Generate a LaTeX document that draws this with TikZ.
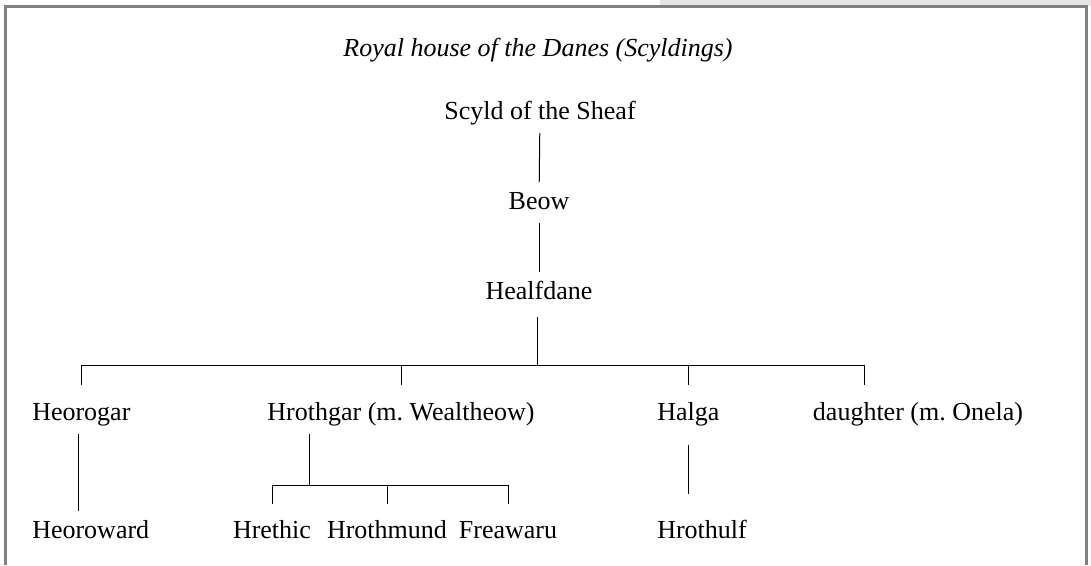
\documentclass[tikz,border=0pt]{standalone}
\usepackage{fontspec}
\setmainfont{Liberation Serif}
\usetikzlibrary{calc}
\frenchspacing

\begin{document}
\begin{tikzpicture}[x=0.75pt,y=0.75pt,yscale=-1,xscale=1,
    every node/.style={inner sep=0pt, anchor=base, font=\fontsize{19.5}{23}\selectfont},
    person/.style={text height=13.5pt, text depth=3.75pt, outer ysep=6.75pt},
    kin/.style={line width=0.75pt, black},
    pageframe/.style={draw=black!50, line width=2.25pt}]
    \useasboundingbox (0,0) rectangle (1091,565);

    %Page tab and frame
    \fill[black!10] (660,0) rectangle (1091,6);
    \draw[pageframe] (5,565) -- (5,6.5) -- (1086.5,6.5) -- (1086.5,565);

    % Text Node
    \node (title) at (538,56) {\itshape Royal house of the Danes (Scyldings)};
    % Text Node
    \node[person] (scyld) at (540,119) {Scyld of the Sheaf};
    % Text Node
    \node[person] (beow) at (539,209) {Beow};
    % Text Node
    \node[person] (healfdane) at (539,299) {Healfdane};
    % Text Node
    \node[person, anchor=base west] (heorogar) at (32,420) {Heorogar};
    % Text Node
    \node[person] (hrothgar) at (401,420) {Hrothgar (m. Wealtheow)};
    % Text Node
    \node[person, anchor=base west] (halga) at (657,420) {Halga};
    % Text Node
    \node[person] (daughter) at (918,420) {daughter (m. Onela)};
    % Text Node
    \node[person, anchor=base west] (heoroward) at (32,538) {Heoroward};
    % Text Node
    \node[person] (hrethic) at (272,538) {Hrethic};
    % Text Node
    \node[person] (hrothmund) at (387,538) {Hrothmund};
    % Text Node
    \node[person] (freawaru) at (508,538) {Freawaru};
    % Text Node
    \node[person, anchor=base west] (hrothulf) at (657,538) {Hrothulf};

    \coordinate (fork) at (537,365);
    \coordinate (sons) at (309,485);
    \coordinate (gar) at ($(heorogar.south)+(-3,0)$);
    \coordinate (onela) at ($(daughter.north)+(-54,0)$);

    %Straight Lines
    \draw[kin] (scyld) -- (beow);
    \draw[kin] (beow) -- (healfdane);
    \draw[kin, shorten <=3pt] (healfdane.south -| fork) -- (fork);
    %Bar over Healfdane's children
    \draw[kin, shorten <=6pt, shorten >=6pt] (heorogar.north) |- (fork) -| (onela);
    \draw[kin, shorten <=6pt] (hrothgar.north) -- (hrothgar.north |- fork);
    \draw[kin, shorten <=6pt] (halga.north) -- (halga.north |- fork);
    %Straight Lines
    \draw[kin] (gar) -- (gar |- heoroward.north);
    \draw[kin, shorten <=8pt, shorten >=13pt] (halga.south) -- (halga.south |- hrothulf.north);
    %Bar over Hrothgar's children
    \draw[kin] (hrothgar.south -| sons) -- (sons);
    \draw[kin, shorten <=5pt, shorten >=5pt] (hrethic.north) |- (sons) -| (freawaru.north);
    \draw[kin, shorten <=5pt] (hrothmund.north) -- (hrothmund.north |- sons);

\end{tikzpicture}
\end{document}
